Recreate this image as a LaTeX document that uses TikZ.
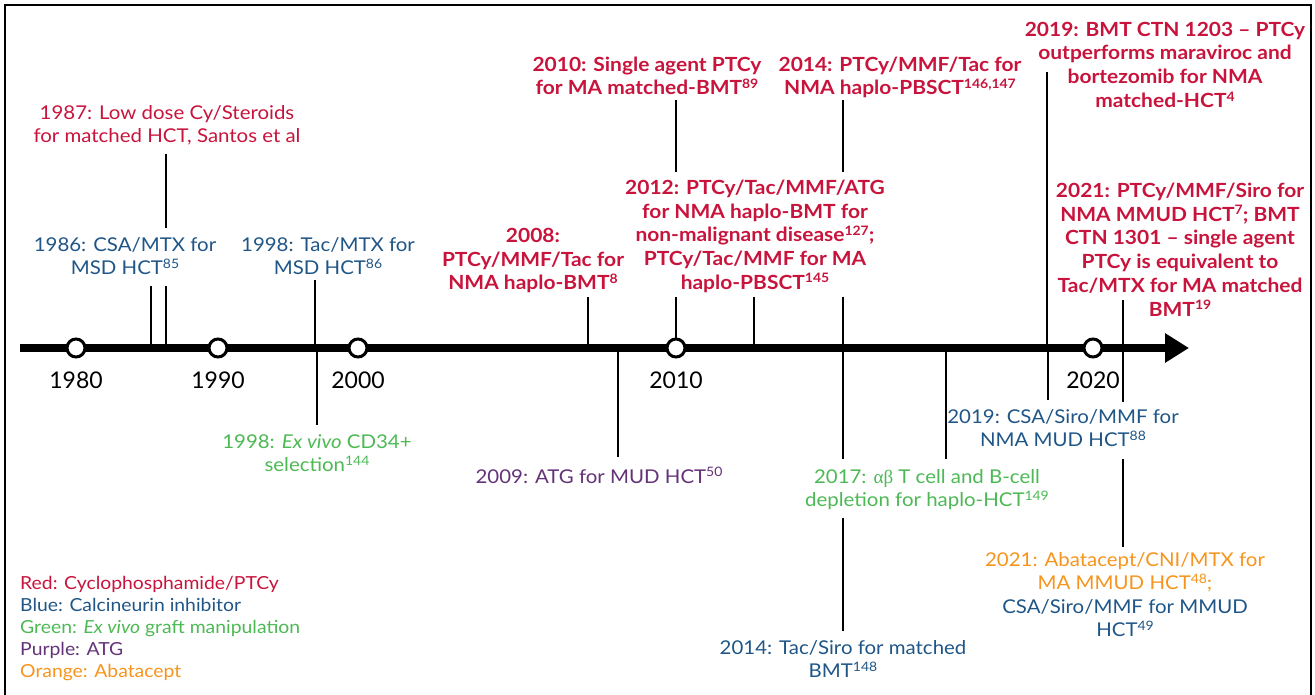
\documentclass[tikz,border=0pt]{standalone}
\usepackage{fontspec}
\setmainfont{Lato}
\newfontfamily\labfont{Lato}[FakeStretch=1.075,Ligatures=TeX]
\newfontfamily\grk{Liberation Serif}
\usetikzlibrary{arrows.meta}
\definecolor{cred}{RGB}{200,20,60}
\definecolor{cblue}{RGB}{31,86,135}
\definecolor{cgreen}{RGB}{76,185,84}
\definecolor{cpurple}{RGB}{100,50,120}
\definecolor{corange}{RGB}{247,148,29}
\newcommand\Ls{\rule{0pt}{16pt}}
\newcommand\Le{\rule[-5pt]{0pt}{5pt}}
\newcommand\sps[1]{\raisebox{6.5pt}{\fontsize{13}{13}\selectfont #1}}
\tikzset{
  lab/.style={align=center, inner sep=0pt, anchor=north, font=\labfont\fontsize{19}{23.5}\selectfont},
  blab/.style={align=center, inner sep=0pt, anchor=north, font=\labfont\fontsize{19.5}{23.8}\selectfont\bfseries},
  conn/.style={line width=1.8pt, black},
  yr/.style={anchor=base, inner sep=0pt, font=\fontsize{23}{23}\selectfont},
  tick/.style={circle, draw=black, fill=white, line width=3pt, minimum size=18pt, inner sep=0pt},
  axisline/.style={line width=8pt, -{Triangle[length=24pt,width=28pt]}},
  frame/.style={line width=2pt, black}
}
\begin{document}
\begin{tikzpicture}[x=1pt,y=-1pt]
\useasboundingbox (0,0) rectangle (1315,695);
\draw[frame] (5,696) -- (5,5) -- (1311,5) -- (1311,696);

% axis coordinates
\coordinate (axs) at (20,348);
\coordinate (axe) at (1189,348);
\coordinate (tA) at (166,348);
\coordinate (tB) at (151,348);
\coordinate (tC) at (315,348);
\coordinate (tD) at (317,348);
\coordinate (tE) at (588,348);
\coordinate (tF) at (618,348);
\coordinate (tH) at (754,348);
\coordinate (tI) at (843,348);
\coordinate (tK) at (946,348);
\coordinate (tL) at (1047,348);
\coordinate (tM) at (1048,348);
\coordinate (tN) at (1123,348);

% axis with arrow and ticks
\draw[axisline] (axs) -- (axe);
\node[tick] (c1980) at (76,348) {};
\node[tick] (c1990) at (218,348) {};
\node[tick] (c2000) at (358,348) {};
\node[tick] (c2010) at (676,348) {};
\node[tick] (c2020) at (1093,348) {};

% year labels
\node[yr] (y1980) at (76,388) {1980};
\node[yr] (y1990) at (218,388) {1990};
\node[yr] (y2000) at (358,388) {2000};
\node[yr] (y2010) at (676,388) {2010};
\node[yr] (y2020) at (1093,388) {2020};

% labels above
\node[lab, text=cred] (n1987) at (167,103) {\Ls 1987: Low dose Cy/Steroids\\for matched HCT, Santos et al\Le};
\node[lab, text=cblue] (n1986) at (125,235) {\Ls 1986: CSA/MTX for\\MSD HCT\sps{85}\Le};
\node[lab, text=cblue] (n1998t) at (328,235) {\Ls 1998: Tac/MTX for\\MSD HCT\sps{86}\Le};
\node[blab, text=cred] (n2008) at (533,226) {\Ls 2008:\\PTCy/MMF/Tac for\\NMA haplo-BMT\sps{8}\Le};
\node[blab, text=cred] (n2010) at (647,55) {\Ls 2010: Single agent PTCy\\for MA matched-BMT\sps{89}\Le};
\node[blab, text=cred] (n2012) at (755,178) {\Ls 2012: PTCy/Tac/MMF/ATG\\for NMA haplo-BMT for\\non-malignant disease\sps{127};\\PTCy/Tac/MMF for MA\\haplo-PBSCT\sps{145}\Le};
\node[blab, text=cred] (n2014t) at (900,55) {\Ls 2014: PTCy/MMF/Tac for\\NMA haplo-PBSCT\sps{146,147}\Le};
\node[blab, text=cred] (n2019r) at (1165,20) {\Ls 2019: BMT CTN 1203 – PTCy\\outperforms maraviroc and\\bortezomib for NMA\\matched-HCT\sps{4}\Le};
\node[blab, text=cred] (n2021r) at (1180,181) {\Ls 2021: PTCy/MMF/Siro for\\NMA MMUD HCT\sps{7}; BMT\\CTN 1301 – single agent\\PTCy is equivalent to\\Tac/MTX for MA matched\\BMT\sps{19}\Le};

% labels below
\node[lab, text=cgreen] (n1998e) at (317,432) {\Ls 1998: \textit{Ex vivo} CD34+\\selection\sps{144}\Le};
\node[lab, text=cpurple] (n2009) at (599,467) {\Ls 2009: ATG for MUD HCT\sps{50}\Le};
\node[lab, text=cgreen] (n2017) at (927,467) {\Ls 2017: {\grk αβ} T cell and B-cell\\depletion for haplo-HCT\sps{149}\Le};
\node[lab, text=cblue] (n2019b) at (1063,407) {\Ls 2019: CSA/Siro/MMF for\\NMA MUD HCT\sps{88}\Le};
\node[lab, text=cblue] (n2014b) at (843,638) {\Ls 2014: Tac/Siro for matched\\BMT\sps{148}\Le};
\node[lab, text=cblue] (n2021b) at (1125,550) {\Ls\textcolor{corange}{2021: Abatacept/CNI/MTX for}\\\textcolor{corange}{MA MMUD HCT\sps{48};}\\CSA/Siro/MMF for MMUD\\HCT\sps{49}\Le};

% legend
\node[align=left, inner sep=0pt, anchor=north west, font=\labfont\fontsize{18}{22}\selectfont] (legend) at (20,573)
 {\Ls\textcolor{cred}{Red: Cyclophosphamide/PTCy}\\
  \textcolor{cblue}{Blue: Calcineurin inhibitor}\\
  \textcolor{cgreen}{Green: \textit{Ex vivo} graft manipulation}\\
  \textcolor{cpurple}{Purple: ATG}\\
  \textcolor{corange}{Orange: Abatacept}};

% connectors
\draw[conn] ([yshift=-6pt]n1987.south -| tA) -- ([yshift=7pt]n1986.north -| tA);
\draw[conn] ([yshift=-6pt]n1986.south -| tA) -- (tA);
\draw[conn] ([yshift=-6pt]n1986.south -| tB) -- (tB);
\draw[conn] (n1998t.south -| tC) -- (tC);
\draw[conn] (tD) -- ([yshift=7pt]n1998e.north -| tD);
\draw[conn] ([yshift=-2pt]n2008.south -| tE) -- (tE);
\draw[conn] (tF) -- ([yshift=10pt]n2009.north -| tF);
\draw[conn] (n2010.south -| c2010) -- ([yshift=6pt]n2012.north -| c2010);
\draw[conn] ([yshift=-2pt]n2012.south -| c2010) -- (c2010.north);
\draw[conn] ([yshift=-2pt]n2012.south -| tH) -- (tH);
\draw[conn] (n2014t.south -| tI) -- ([yshift=6pt]n2012.north -| tI);
\draw[conn] ([yshift=-2pt]n2012.south -| tI) -- (tI);
\draw[conn] (tI) -- ([yshift=8pt]n2017.north -| tI);
\draw[conn] ([yshift=-6pt]n2017.south -| tI) -- ([yshift=7pt]n2014b.north -| tI);
\draw[conn] (tK) -- ([yshift=8pt]n2017.north -| tK);
\draw[conn] ([yshift=-52pt]n2019r.north -| tL) -- (tL);
\draw[conn] (tM) -- ([yshift=7pt]n2019b.north -| tM);
\draw[conn] ([yshift=21pt]n2021r.south -| tN) -- (tN);
\draw[conn] (tN) -- ([yshift=5pt]n2019b.north -| tN);
\draw[conn] ([yshift=-7pt]n2019b.south -| tN) -- ([yshift=3pt]n2021b.north -| tN);
\end{tikzpicture}
\end{document}
